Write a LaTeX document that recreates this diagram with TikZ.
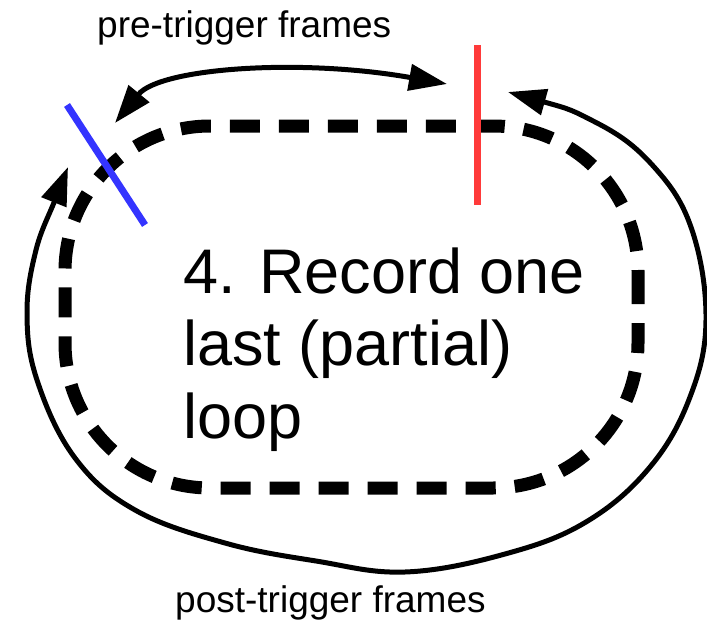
\documentclass[tikz,border=0pt]{standalone}
\usepackage{fontspec}
\setmainfont{Liberation Sans}
\usetikzlibrary{arrows.meta}
\definecolor{trigred}{RGB}{255,58,58}
\definecolor{trigblue}{RGB}{52,52,255}
\begin{document}
\begin{tikzpicture}[x=1pt,y=-1pt,
  loopline/.style={line width=13pt, dash pattern=on 30pt off 19pt},
  flow/.style={line width=5pt, {Triangle[length=38pt,width=26pt]}-{Triangle[length=38pt,width=26pt]}},
  smalltxt/.style={font=\fontsize{37}{44}\selectfont, inner sep=0pt, anchor=base west},
  bigtxt/.style={font=\fontsize{63}{72.5}\selectfont, inner sep=0pt, anchor=base west, align=left},
  marker/.style={line width=7pt}
]
\useasboundingbox (0,0) rectangle (707,621);
% dashed loop
\draw[loopline] (638,300) -- (638,271) .. controls (638,191) and (573,126) .. (493,126)
  -- (210,126) .. controls (130,126) and (65,191) .. (65,271)
  -- (65,343) .. controls (65,423) and (130,488) .. (210,488)
  -- (493,488) .. controls (573,488) and (638,423) .. (638,343) -- cycle;
% trigger markers
\coordinate (redtop) at (477,45);
\coordinate (redbot) at (477,205);
\coordinate (bluetop) at (67,105);
\coordinate (bluebot) at (145,225);
\draw[marker, trigred] (redtop) -- (redbot);
\draw[marker, trigblue] (bluetop) -- (bluebot);
% pre-trigger arrow
\coordinate (preA) at (115,123);
\coordinate (preB) at (447,84);
\draw[flow] (preA) .. controls (160,68) and (300,58) .. (preB);
% post-trigger arrow
\coordinate (postA) at (508,92);
\coordinate (postB) at (68,167);
\draw[flow] plot[smooth, tension=0.65] coordinates {(508,92) (597,123) (655,168) (692,230) (706,320) (690,397) (650,467) (586,522) (505,554) (405,572) (316,561) (225,543) (135,510) (75,458) (37,380) (27,313) (36,250) (55,200) (68,167)};
% texts
\node[smalltxt] (pre) at (97,37) {pre-trigger frames};
\node[smalltxt] (post) at (175,612) {post-trigger frames};
\node[bigtxt] (title) at (183,438) {4. Record one\\last (partial)\\loop};
\end{tikzpicture}
\end{document}
